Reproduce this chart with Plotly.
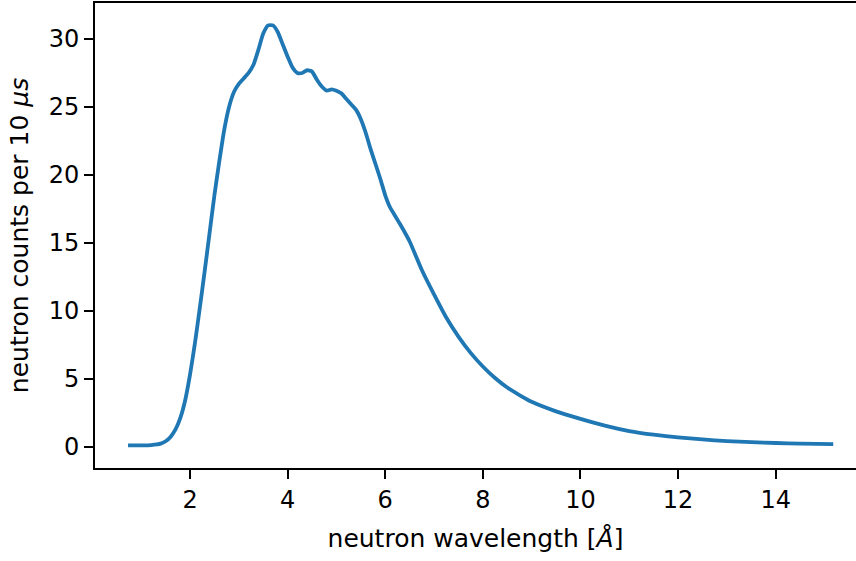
import plotly.graph_objects as go

wavelength = [0.73, 1.00, 1.20, 1.40, 1.50, 1.60, 1.70, 1.80, 1.90, 2.00,
              2.10, 2.20, 2.30, 2.40, 2.50, 2.60, 2.70, 2.80, 2.90, 3.00,
              3.10, 3.20, 3.30, 3.40, 3.50, 3.60, 3.70, 3.80, 3.90, 4.00,
              4.10, 4.20, 4.30, 4.40, 4.50, 4.60, 4.70, 4.80, 4.90, 5.00,
              5.10, 5.20, 5.30, 5.40, 5.50, 5.60, 5.70, 5.80, 5.90, 6.00,
              6.10, 6.20, 6.30, 6.50, 6.75, 7.00, 7.25, 7.50, 7.75, 8.00,
              8.25, 8.50, 8.75, 9.00, 9.50, 10.00, 10.50, 11.00, 11.50, 12.00,
              12.50, 13.00, 13.50, 14.00, 14.50, 15.18]
counts = [0.10, 0.10, 0.12, 0.22, 0.40, 0.72, 1.25, 2.1, 3.4, 5.3,
          7.6, 10.2, 12.9, 15.7, 18.5, 21.0, 23.3, 25.0, 26.1, 26.7,
          27.1, 27.5, 28.1, 29.2, 30.4, 31.0, 31.0, 30.5, 29.6, 28.7,
          27.9, 27.5, 27.5, 27.7, 27.6, 27.0, 26.5, 26.2, 26.3, 26.2,
          26.0, 25.6, 25.2, 24.8, 24.1, 23.1, 21.9, 20.8, 19.7, 18.5,
          17.6, 17.0, 16.4, 15.1, 13.0, 11.2, 9.5, 8.1, 6.9, 5.9,
          5.05, 4.35, 3.8, 3.3, 2.6, 2.05, 1.55, 1.15, 0.88, 0.68,
          0.53, 0.41, 0.33, 0.27, 0.22, 0.18]

x_ticks = [2, 4, 6, 8, 10, 12, 14]
y_ticks = [0, 5, 10, 15, 20, 25, 30]

fig = go.Figure()
fig.add_trace(go.Scatter(x=wavelength, y=counts, mode="lines",
                         line=dict(color="#1f77b4", width=3.8, shape="spline", smoothing=0.5),
                         showlegend=False))

font = dict(family="DejaVu Sans", size=24, color="black")
title_font = dict(family="DejaVu Sans", size=25, color="black")
fig.update_layout(
    width=856, height=561,
    margin=dict(l=95, r=0, t=3, b=93),
    paper_bgcolor="white", plot_bgcolor="white",
    font=font,
    xaxis=dict(range=[0.053, 15.646], tickvals=x_ticks, ticks="outside", ticklen=9,
               tickwidth=2, tickcolor="black", showline=True, linecolor="black",
               linewidth=2, mirror=True, showgrid=False, zeroline=False,
               title=dict(text="neutron wavelength [<i>Å</i>]", standoff=17, font=title_font),
               tickfont=font),
    yaxis=dict(range=[-1.57, 32.65], tickvals=y_ticks, ticks="outside", ticklen=9,
               tickwidth=2, tickcolor="black", showline=True, linecolor="black",
               linewidth=2, mirror=False, showgrid=False, zeroline=False,
               title=dict(text="neutron counts per 10 <i>μs</i>", standoff=13, font=title_font),
               tickfont=font),
)
fig.write_html("out.html")
